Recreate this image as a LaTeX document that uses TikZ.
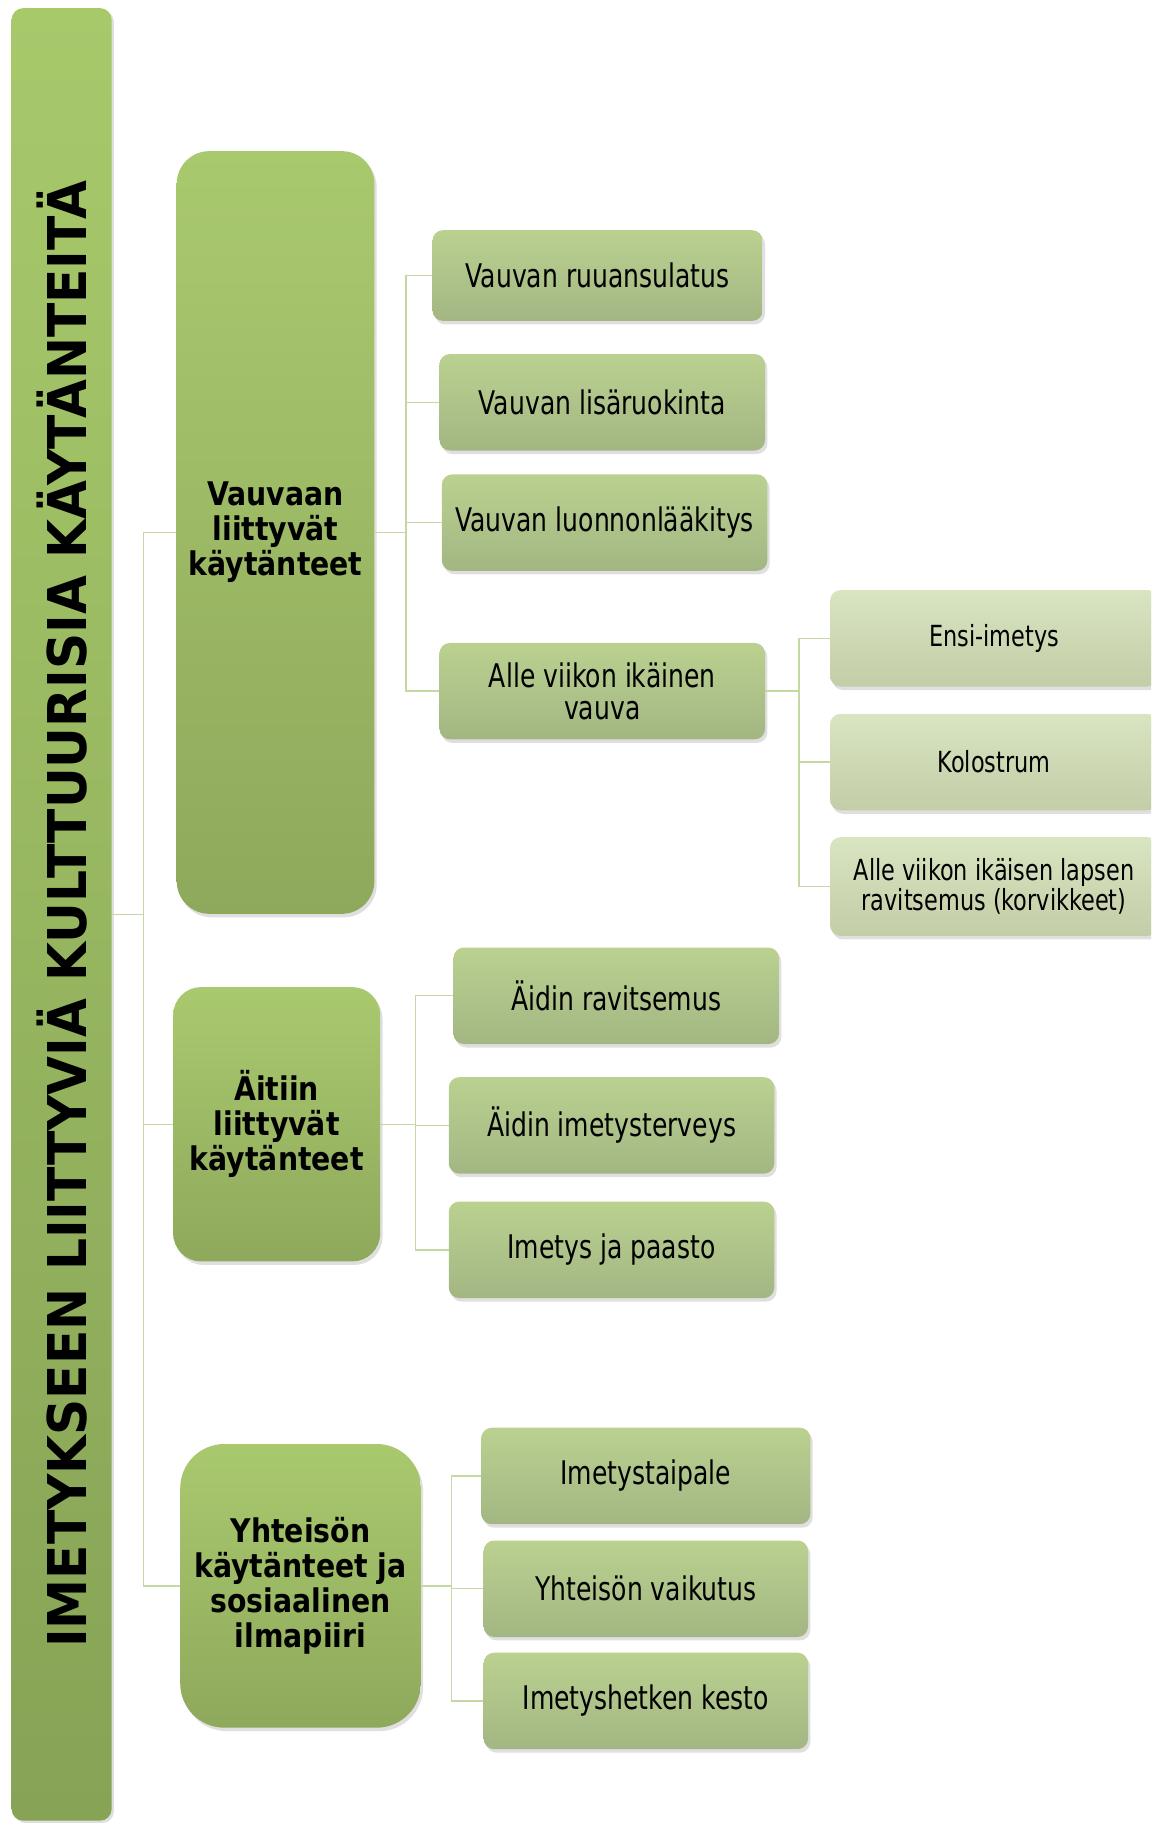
\documentclass[tikz,border=0pt]{standalone}
\usepackage{fontspec}
\usepackage{graphicx}
\usepackage{tikz}
\usetikzlibrary{shadows}
\setmainfont{DejaVu Sans}
\newfontfamily\titlefont{DejaVu Sans}[FakeStretch=0.94]
\newfontfamily\groupfont{DejaVu Sans}[FakeStretch=0.87]
\newfontfamily\leaffont{DejaVu Sans}[FakeStretch=0.77]
\definecolor{barTop}{HTML}{A7C96A}
\definecolor{barBot}{HTML}{87A356}
\definecolor{grpTop}{HTML}{A9C96E}
\definecolor{grpBot}{HTML}{8FA95C}
\definecolor{subTop}{HTML}{BAD190}
\definecolor{subBot}{HTML}{A3B683}
\definecolor{leafTop}{HTML}{D8E5C0}
\definecolor{leafBot}{HTML}{C3CDA8}
\definecolor{linkGreen}{HTML}{C5D8A4}
\tikzset{
  rootbar/.style={top color=barTop, bottom color=barBot, rounded corners=10pt,
        minimum width=86pt, minimum height=1559pt, inner sep=0pt,
        drop shadow={opacity=0.25, shadow xshift=2pt, shadow yshift=-2pt},
        font={\titlefont\bfseries\fontsize{46}{46}\selectfont}},
  grpbox/.style={top color=grpTop, bottom color=grpBot, rounded corners=28pt,
        align=center, inner sep=0pt,
        drop shadow={opacity=0.25, shadow xshift=2pt, shadow yshift=-3pt},
        font={\groupfont\bfseries\fontsize{28}{30}\selectfont}},
  subbox/.style={top color=subTop, bottom color=subBot, rounded corners=9pt,
        minimum width=280pt, minimum height=83pt, align=center, inner sep=0pt,
        drop shadow={opacity=0.25, shadow xshift=2pt, shadow yshift=-3pt},
        font={\leaffont\fontsize{28}{27}\selectfont}},
  leafbox/.style={subbox, top color=leafTop, bottom color=leafBot,
        minimum width=282pt, font={\leaffont\fontsize{25}{26}\selectfont}},
  link/.style={draw=linkGreen, line width=1.2pt}
}

\begin{document}
\begin{tikzpicture}[x=1pt, y=-1pt]
\useasboundingbox (0,0) rectangle (990,1568);
\clip (0,0) rectangle (990,1568);

% root bar
\node[rootbar] (root) at (53,786.5)
  {\rotatebox{90}{IMETYKSEEN LIITTYVIÄ KULTTUURISIA KÄYTÄNTEITÄ}};

% groups
\node[grpbox, minimum width=170pt, minimum height=656pt] (g1) at (237,458)
  {Vauvaan\\liittyvät\\käytänteet};
\node[grpbox, rounded corners=24pt, minimum width=178pt, minimum height=236pt] (g2) at (238,967)
  {Äitiin\\liittyvät\\käytänteet};
\node[grpbox, rounded corners=38pt, minimum width=207pt, minimum height=244pt] (g3) at (258.5,1364)
  {Yhteisön\\käytänteet ja\\sosiaalinen\\ilmapiiri};

% baby practices
\node[subbox, minimum width=284pt, minimum height=78pt] (a1) at (514,237) {Vauvan ruuansulatus};
\node[subbox] (a2) at (518,346) {Vauvan lisäruokinta};
\node[subbox] (a3) at (520,449.5) {Vauvan luonnonlääkitys};
\node[subbox] (a4) at (518,594.5) {Alle viikon ikäinen\\vauva};

% first week
\node[leafbox] (e1) at (855,549) {Ensi-imetys};
\node[leafbox] (e2) at (855,655.5) {Kolostrum};
\node[leafbox, minimum height=85pt] (e3) at (855,762.5)
  {Alle viikon ikäisen lapsen\\ravitsemus (korvikkeet)};

% mother practices
\node[subbox] (b1) at (530,856.5) {Äidin ravitsemus};
\node[subbox] (b2) at (526,968) {Äidin imetysterveys};
\node[subbox] (b3) at (526,1075) {Imetys ja paasto};

% community
\node[subbox, minimum width=283pt] (c1) at (555.5,1269.5) {Imetystaipale};
\node[subbox, minimum width=279pt] (c2) at (555.5,1366.5) {Yhteisön vaikutus};
\node[subbox, minimum width=279pt] (c3) at (555.5,1463) {Imetyshetken kesto};

% connectors
\foreach \g in {g1,g2,g3}
  \draw[link] (root.east) -- ++(27,0) |- (\g.west);
\foreach \s in {a1,a2,a3,a4}
  \draw[link] (g1.east) -- ++(27,0) |- (\s.west);
\foreach \s in {e1,e2,e3}
  \draw[link] (a4.east) -- ++(29,0) |- (\s.west);
\foreach \s in {b1,b2,b3}
  \draw[link] (g2.east) -- ++(30,0) |- (\s.west);
\foreach \s in {c1,c2,c3}
  \draw[link] (g3.east) -- ++(26,0) |- (\s.west);
\end{tikzpicture}
\end{document}
